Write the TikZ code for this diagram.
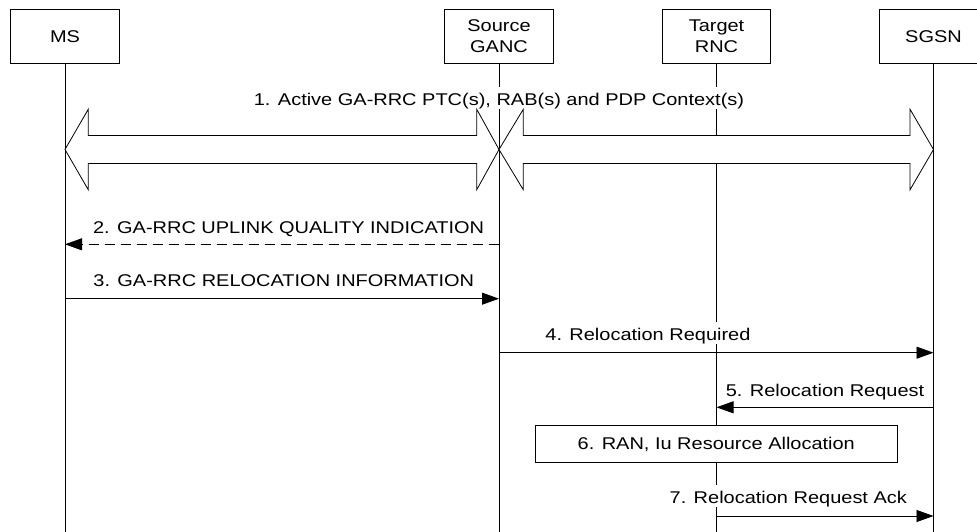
\documentclass[tikz,border=0pt]{standalone}
\usepackage{fontspec}
\setmainfont{Liberation Sans}[FakeStretch=1.175]
\usetikzlibrary{arrows.meta}
\begin{document}
\begin{tikzpicture}[x=1pt,y=-1pt,line width=0.8pt,
  font=\fontsize{17}{21}\selectfont,
  entity/.style={draw,fill=white,minimum width=108.5pt,minimum height=54pt,align=center,inner sep=0pt},
  msg/.style={-{Triangle[length=17pt,width=12pt]}},
  dmsg/.style={msg,dash pattern=on 10pt off 6pt},
  lbl/.style={fill=white,inner xsep=1pt,inner ysep=0pt,text height=18.5pt,text depth=3.5pt},
  bigarrow/.style={draw,fill=white,line join=miter},
  actbox/.style={draw,fill=white,minimum width=362.7pt,minimum height=36.6pt,inner sep=0pt}]
\useasboundingbox (0,0) rectangle (977,532);
\clip (0,0) rectangle (977,532);
% entities
\node[entity] (ms) at (65,36.3) {MS};
\node[entity] (ganc) at (499,36.3) {Source\\GANC};
\node[entity] (rnc) at (716.5,36.3) {Target\\RNC};
\node[entity] (sgsn) at (933.5,36.3) {SGSN};
% helper coordinates
\coordinate (ybot) at (0,532);
\coordinate (y2) at (0,244.3);
\coordinate (y3) at (0,298.7);
\coordinate (y4) at (0,352.7);
\coordinate (y5) at (0,407.3);
\coordinate (y7) at (0,516);
% lifelines
\draw (ms.south) -- (ms.south |- ybot);
\draw (ganc.south) -- (ganc.south |- ybot);
\draw (rnc.south) -- (rnc.south |- ybot);
\draw (sgsn.south) -- (sgsn.south |- ybot);
% 1. label and block arrows
\node[lbl,anchor=base] (l1) at (499,105.7) {1. Active GA-RRC PTC(s), RAB(s) and PDP Context(s)};
\draw[bigarrow] (65,149.5) -- (88.3,109.2) -- (88.3,135.5) -- (476.7,135.5) -- (476.7,109.2)
  -- (499,149.5) -- (476.7,189.8) -- (476.7,163.5) -- (88.3,163.5) -- (88.3,189.8) -- cycle;
\draw[bigarrow] (499,149.5) -- (523.3,109.2) -- (523.3,135.5) -- (910,135.5) -- (910,109.2)
  -- (933.5,149.5) -- (910,189.8) -- (910,163.5) -- (523.3,163.5) -- (523.3,189.8) -- cycle;
% 2
\draw[dmsg] (ganc |- y2) -- (ms |- y2);
\node[lbl,anchor=base west] (l2) at (91.7,233.3) {2. GA-RRC UPLINK QUALITY INDICATION};
% 3
\draw[msg] (ms |- y3) -- (ganc |- y3);
\node[lbl,anchor=base west] (l3) at (92,286.7) {3. GA-RRC RELOCATION INFORMATION};
% 4
\draw[msg] (ganc |- y4) -- (sgsn |- y4);
\node[lbl,anchor=base west] (l4) at (544,340.7) {4. Relocation Required};
% 5
\draw[msg] (sgsn |- y5) -- (rnc |- y5);
\node[lbl,anchor=base] (l5) at (825,396) {5. Relocation Request};
% 6
\node[actbox] (alloc) at (716.3,444) {6. RAN, Iu Resource Allocation};
% 7
\draw[msg] (rnc |- y7) -- (sgsn |- y7);
\node[lbl,anchor=base] (l7) at (788.3,503.3) {7. Relocation Request Ack};
\end{tikzpicture}
\end{document}
